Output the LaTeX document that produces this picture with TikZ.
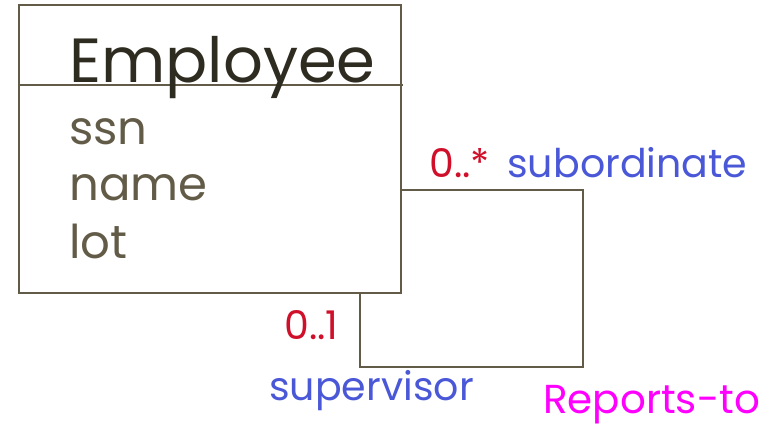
\documentclass[tikz,border=0pt]{standalone}
\usepackage{fontspec}
\setmainfont{Poppins}
\definecolor{umlline}{HTML}{625B48}
\definecolor{umltitle}{HTML}{2E2B20}
\definecolor{mult}{HTML}{D0102A}
\definecolor{rolecol}{HTML}{4A58D8}
\definecolor{assoc}{HTML}{FF00FF}
\begin{document}
\begin{tikzpicture}[line width=1.5pt,
	cls/.style={draw=umlline,line width=1.5pt,minimum width=7.64cm,minimum height=5.76cm,inner sep=0pt},
	attr/.style={anchor=base west,text=umlline,font=\fontsize{26.5}{30}\selectfont,inner sep=0pt},
	mlabel/.style={anchor=base west,text=mult,font=\fontsize{22.5}{26}\selectfont,inner sep=0pt},
	rlabel/.style={anchor=base west,text=rolecol,font=\fontsize{22.5}{26}\selectfont,inner sep=0pt}]
	\useasboundingbox (0,0) rectangle (15.54,-8.58);
	% class box
	\node[cls] (employee) at (4.2,-2.98) {};
	\draw[umlline] (0.38,-1.7) -- (8.06,-1.7);
	\node[anchor=base west,text=umltitle,font=\fontsize{35.5}{40}\selectfont,inner sep=0pt] (title) at (1.36,-1.66) {Employee};
	\node[attr] (ssn) at (1.36,-2.9) {ssn};
	\node[attr] (name) at (1.36,-4.02) {name};
	\node[attr] (lot) at (1.36,-5.16) {lot};
	% self association
	\coordinate (out) at (employee.east |- 0,-3.8);
	\coordinate (c1) at (11.66,-3.8);
	\coordinate (c2) at (11.66,-7.34);
	\coordinate (c3) at (7.2,-7.34);
	\coordinate (in) at (employee.south -| c3);
	\draw[umlline] (out) -- (c1) -- (c2) -- (c3) -- (in);
	\node[mlabel] (sub mult) at (8.56,-3.56) {0..*};
	\node[rlabel] (sub role) at (10.12,-3.56) {subordinate};
	\node[mlabel] (sup mult) at (5.66,-6.78) {0..1};
	\node[rlabel] (sup role) at (5.36,-8.0) {supervisor};
	\node[anchor=base west,text=assoc,font=\fontsize{23}{28}\selectfont,inner sep=0pt] (reports) at (10.84,-8.26) {Reports-to};
\end{tikzpicture}
\end{document}
